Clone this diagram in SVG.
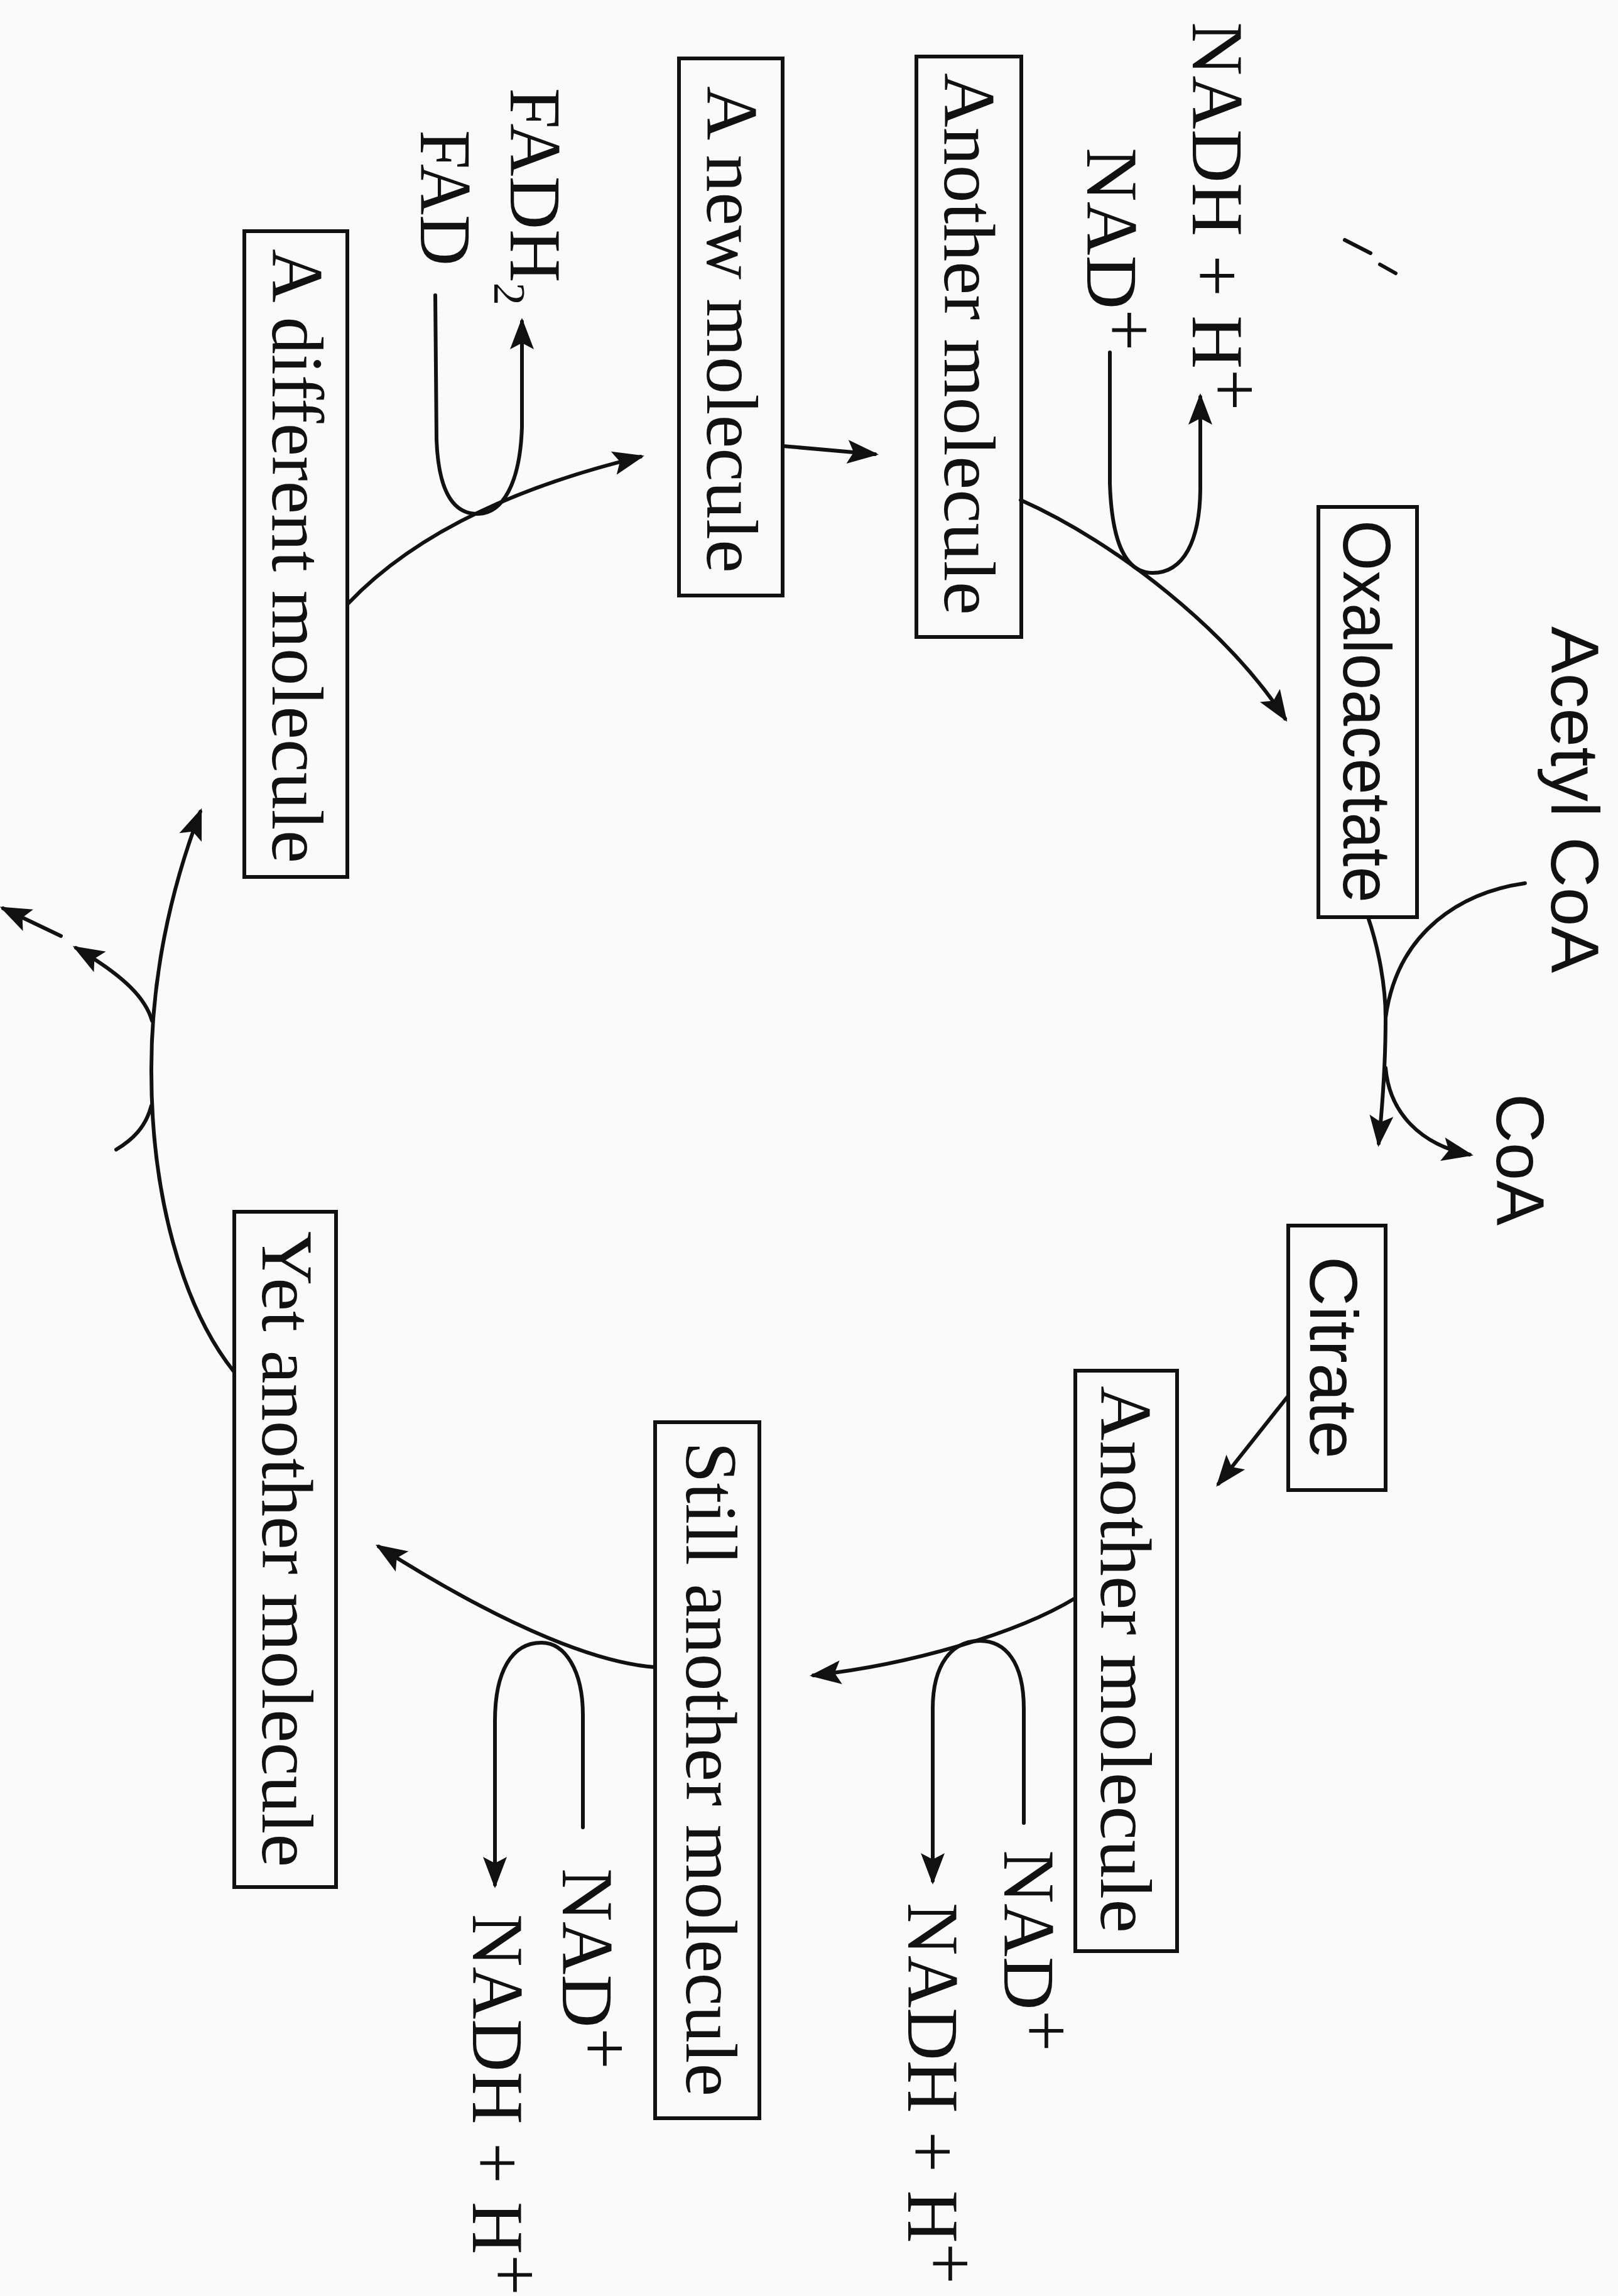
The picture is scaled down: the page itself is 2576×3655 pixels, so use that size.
<svg xmlns="http://www.w3.org/2000/svg" width="2576" height="3655" viewBox="0 0 2576 3655">
<style>
.bg{fill:#fafafa}
.box{fill:none;stroke:#111;stroke-width:6}
.ln{fill:none;stroke:#111;stroke-width:6;stroke-linecap:round}
.lbl{font-family:"Liberation Serif","DejaVu Serif",serif;font-size:116px;fill:#111}
.sans{font-family:"Liberation Sans","DejaVu Sans",sans-serif;font-size:108px;fill:#111}
.sub{font-size:72px}
</style>
<defs>
<marker id="ah" viewBox="-50 -22 60 44" refX="0" refY="0" markerWidth="60" markerHeight="44" markerUnits="userSpaceOnUse" orient="auto">
<path d="M6,0 L-44,-19 L-34,0 L-44,19 Z" fill="#111"/>
</marker>
</defs>
<rect class="bg" x="0" y="0" width="2576" height="3655"/>

<g id="connectors">
<path class="ln" d="M2178,1460 C2195,1510 2206,1570 2206,1620 C2206,1700 2200,1770 2195,1820" marker-end="url(#ah)"/>
<path class="ln" d="M2428,1406 C2330,1420 2225,1480 2206,1620"/>
<path class="ln" d="M2206,1700 C2212,1770 2260,1822 2340,1838" marker-end="url(#ah)"/>
<path class="ln" d="M2051,2222 L1940,2362" marker-end="url(#ah)"/>
<path class="ln" d="M1712,2544 C1620,2600 1450,2650 1295,2667" marker-end="url(#ah)"/>
<path class="ln" d="M1630,2902 L1630,2720 C1630,2645 1600,2612 1560,2612 C1515,2612 1485,2650 1485,2720 L1485,2994" marker-end="url(#ah)"/>
<path class="ln" d="M1043,2654 C960,2648 820,2600 603,2462" marker-end="url(#ah)"/>
<path class="ln" d="M928,2909 L928,2730 C928,2660 900,2615 862,2615 C815,2615 788,2660 788,2740 L788,3000" marker-end="url(#ah)"/>
<path class="ln" d="M372,2183 C290,2080 240,1900 241,1700 C241,1560 270,1420 319,1292" marker-end="url(#ah)"/>
<path class="ln" d="M185,1830 C210,1815 232,1795 241,1760"/>
<path class="ln" d="M242,1625 C232,1590 200,1555 121,1509" marker-end="url(#ah)"/>
<path class="ln" d="M97,1490 L5,1446" marker-end="url(#ah)"/>
<path class="ln" d="M554,961 C650,860 800,780 1020,727" marker-end="url(#ah)"/>
<path class="ln" d="M693,470 L695,700 C698,780 720,818 760,818 C800,818 828,770 831,680 L831,512" marker-end="url(#ah)"/>
<path class="ln" d="M1246,710 L1393,723" marker-end="url(#ah)"/>
<path class="ln" d="M1625,796 C1780,865 1955,1005 2046,1144" marker-end="url(#ah)"/>
<path class="ln" d="M1767,561 L1767,770 C1770,860 1790,912 1835,912 C1885,912 1910,860 1911,780 L1911,632" marker-end="url(#ah)"/>
<path class="ln" d="M2141,382 L2182,403 M2197,421 L2222,435"/>
</g>

<g id="node-oxaloacetate">
<rect class="box" x="2099" y="807" width="157" height="653"/>
<text class="sans" transform="translate(2139,828) rotate(90)" textLength="609" lengthAdjust="spacingAndGlyphs">Oxaloacetate</text>
</g>
<g id="node-acetylcoa">
<text class="sans" transform="translate(2470,997) rotate(90)" textLength="552" lengthAdjust="spacingAndGlyphs">Acetyl CoA</text>
</g>
<g id="node-coa">
<text class="sans" transform="translate(2383,1741) rotate(90)" textLength="210" lengthAdjust="spacingAndGlyphs">CoA</text>
</g>
<g id="node-citrate">
<rect class="box" x="2051" y="1951" width="155" height="421"/>
<text class="sans" transform="translate(2086,2000) rotate(90)" textLength="322" lengthAdjust="spacingAndGlyphs">Citrate</text>
</g>
<g id="node-another2">
<rect class="box" x="1712" y="2182" width="162" height="924"/>
<text class="lbl" transform="translate(1753,2206) rotate(90)" textLength="871" lengthAdjust="spacingAndGlyphs">Another molecule</text>
</g>
<g id="node-nad2">
<text class="lbl" transform="translate(1599,2945) rotate(90)" textLength="321" lengthAdjust="spacingAndGlyphs">NAD<tspan dy="-28">+</tspan></text>
</g>
<g id="node-nadh2">
<text class="lbl" transform="translate(1446,3029) rotate(90)" textLength="607" lengthAdjust="spacingAndGlyphs">NADH + H<tspan dy="-28">+</tspan></text>
</g>
<g id="node-still">
<rect class="box" x="1043" y="2264" width="166" height="1108"/>
<text class="lbl" transform="translate(1093,2295) rotate(90)" textLength="1042" lengthAdjust="spacingAndGlyphs">Still another molecule</text>
</g>
<g id="node-nad3">
<text class="lbl" transform="translate(896,2974) rotate(90)" textLength="320" lengthAdjust="spacingAndGlyphs">NAD<tspan dy="-28">+</tspan></text>
</g>
<g id="node-nadh3">
<text class="lbl" transform="translate(753,3047) rotate(90)" textLength="607" lengthAdjust="spacingAndGlyphs">NADH + H<tspan dy="-28">+</tspan></text>
</g>
<g id="node-yet">
<rect class="box" x="373" y="1929" width="162" height="1075"/>
<text class="lbl" transform="translate(418,1960) rotate(90)" textLength="1012" lengthAdjust="spacingAndGlyphs">Yet another molecule</text>
</g>
<g id="node-different">
<rect class="box" x="389" y="368" width="164" height="1028"/>
<text class="lbl" transform="translate(434,396) rotate(90)" textLength="978" lengthAdjust="spacingAndGlyphs">A different molecule</text>
</g>
<g id="node-fadh2">
<text class="lbl" transform="translate(813,140) rotate(90)" textLength="346" lengthAdjust="spacingAndGlyphs">FADH<tspan class="sub" dy="26">2</tspan></text>
</g>
<g id="node-fad">
<text class="lbl" transform="translate(670,207) rotate(90)" textLength="216" lengthAdjust="spacingAndGlyphs">FAD</text>
</g>
<g id="node-new">
<rect class="box" x="1081" y="93" width="165" height="855"/>
<text class="lbl" transform="translate(1126,137) rotate(90)" textLength="775" lengthAdjust="spacingAndGlyphs">A new molecule</text>
</g>
<g id="node-another1">
<rect class="box" x="1459" y="90" width="167" height="924"/>
<text class="lbl" transform="translate(1504,116) rotate(90)" textLength="863" lengthAdjust="spacingAndGlyphs">Another molecule</text>
</g>
<g id="node-nad1">
<text class="lbl" transform="translate(1731,235) rotate(90)" textLength="324" lengthAdjust="spacingAndGlyphs">NAD<tspan dy="-28">+</tspan></text>
</g>
<g id="node-nadh1">
<text class="lbl" transform="translate(1899,35) rotate(90)" textLength="619" lengthAdjust="spacingAndGlyphs">NADH + H<tspan dy="-28">+</tspan></text>
</g>
</svg>
